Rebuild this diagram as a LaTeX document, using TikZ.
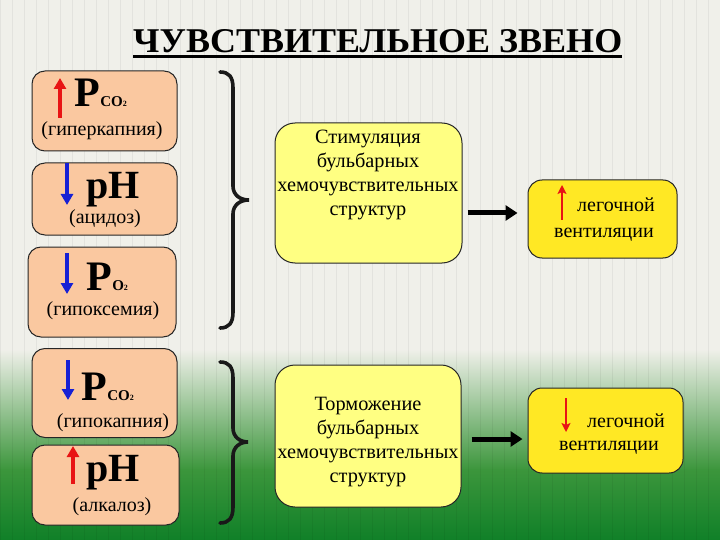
\documentclass[tikz,border=0pt]{standalone}
\usepackage{fontspec}
\setmainfont{Liberation Serif}
\usetikzlibrary{arrows.meta}
\definecolor{bgpale}{RGB}{240,240,234}
\definecolor{gmid}{RGB}{60,150,60}
\definecolor{gdark}{RGB}{16,128,40}
\definecolor{peachc}{RGB}{250,200,160}
\definecolor{paley}{RGB}{255,255,130}
\definecolor{brighty}{RGB}{255,232,36}
\definecolor{ared}{RGB}{232,20,20}
\definecolor{ablue}{RGB}{22,32,212}
\begin{document}
\begin{tikzpicture}[x=1pt,y=-1pt,
  peach/.style={draw=black!85, line width=1, fill=peachc, rounded corners=13, inner sep=0},
  palebox/.style={draw=black!85, line width=1, fill=paley, rounded corners=20, inner sep=0},
  brightbox/.style={draw=black!85, line width=1, fill=brighty, rounded corners=14, inner sep=0},
  bigarr/.style={line width=4, -{Triangle[width=12pt,length=11pt]}},
  thinarr/.style={line width=1.6, ared, -{Stealth[width=9pt,length=9pt,inset=2pt]}},
  flowarr/.style={line width=5, black, -{Triangle[width=15pt,length=12pt]}},
  bracep/.style={line width=3.6, black!90, line cap=round},
  lbl/.style={inner sep=0, font=\fontsize{20}{20}\selectfont},
  symP/.style={inner sep=0, anchor=base west, font=\fontsize{42}{42}\selectfont\bfseries},
  sympH/.style={inner sep=0, anchor=base west, font=\fontsize{40}{40}\selectfont\bfseries},
  subs/.style={inner sep=0, anchor=base west, font=\fontsize{15}{15}\selectfont\bfseries},
  ytext/.style={inner sep=0, align=center, font=\fontsize{20.3}{24}\selectfont},
  vtext/.style={inner sep=0, font=\fontsize{20}{20}\selectfont}
]
\useasboundingbox (0,0) rectangle (720,540);
% background
\fill[bgpale] (0,0) rectangle (720,350);
\shade[top color=bgpale, bottom color=gmid] (0,349) rectangle (720,470);
\shade[top color=gmid, bottom color=gdark] (0,469) rectangle (720,540);
\draw[black, opacity=0.05, line width=0.7, step=12] (0,0) grid (720,540);

% title
\node[inner sep=0, anchor=base west] (title) at (133,53)
  {\resizebox{489pt}{23pt}{\bfseries ЧУВСТВИТЕЛЬНОЕ ЗВЕНО}};
\draw[line width=3] (title.south west) ++(0,3) coordinate (ul1) -- (ul1 -| title.south east);

% left boxes
\node[peach, minimum width=145, minimum height=80] (b1) at (104.5,111) {};
\draw[bigarr, ared] (60,118) -- (60,78);
\node[symP] (b1P) at (74,107) {P};
\node[subs] at (b1P.base east) {CO\fontsize{8}{8}\selectfont 2};
\node[lbl] (b1t) at (102,131) {(гиперкапния)};

\node[peach, minimum width=145, minimum height=72] (b2) at (104.5,199) {};
\draw[bigarr, ablue] (67,163) -- (67,205);
\node[sympH] (b2P) at (86,199) {pH};
\node[lbl] (b2t) at (105,219) {(ацидоз)};

\node[peach, minimum width=148, minimum height=90] (b3) at (102,292) {};
\draw[bigarr, ablue] (67,253) -- (67,294);
\node[symP] (b3P) at (86,290) {P};
\node[subs] at (b3P.base east) {O\fontsize{8}{8}\selectfont 2};
\node[lbl] (b3t) at (103,311) {(гипоксемия)};

\node[peach, minimum width=145, minimum height=89] (b4) at (104.5,393) {};
\draw[bigarr, ablue] (68,360) -- (68,400);
\node[symP] (b4P) at (81,400) {P};
\node[subs] at (b4P.base east) {CO\fontsize{8}{8}\selectfont 2};
\node[lbl] (b4t) at (113,423) {(гипокапния)};

\node[peach, minimum width=147, minimum height=80] (b5) at (105.5,485) {};
\draw[bigarr, ared] (73,484) -- (73,446);
\node[sympH] (b5P) at (86,481) {pH};
\node[lbl] (b5t) at (112,507) {(алкалоз)};

% braces
\draw[bracep] (220,72) .. controls (229,72) and (233,77) .. (233,88) -- (233,186)
  .. controls (233,195) and (240,200) .. (249,200)
  .. controls (240,200) and (233,205) .. (233,214) -- (233,312)
  .. controls (233,323) and (229,328) .. (220,328);
\draw[bracep] (220,362) .. controls (229,362) and (233,367) .. (233,378) -- (233,428)
  .. controls (233,437) and (240,442) .. (248,442)
  .. controls (240,442) and (233,447) .. (233,456) -- (233,507)
  .. controls (233,518) and (229,523) .. (220,523);

% yellow boxes
\node[palebox, minimum width=187, minimum height=140] (s1) at (368.5,193) {};
\node[ytext, anchor=north] (s1t) at (368,130) {Стимуляция\\бульбарных\\хемочувствительных\\структур};

\node[brightbox, minimum width=149, minimum height=78] (v1) at (602.5,219) {};
\draw[thinarr] (562,220) -- (562,185);
\node[vtext, anchor=west] (v1a) at (577,205) {легочной};
\node[vtext] (v1b) at (604,235) {вентиляции};

\node[palebox, minimum width=186, minimum height=142] (s2) at (368,436) {};
\node[ytext] (s2t) at (368,442) {Торможение\\бульбарных\\хемочувствительных\\структур};

\node[brightbox, minimum width=155, minimum height=85] (v2) at (605.5,430.5) {};
\draw[thinarr] (566,398) -- (566,432);
\node[vtext, anchor=west] (v2a) at (587,421) {легочной};
\node[vtext] (v2b) at (609,448) {вентиляции};

% flow arrows
\draw[flowarr] ([xshift=5pt]s1.east |- 0,213) -- ([xshift=-10pt]v1.west |- 0,213);
\draw[flowarr] ([xshift=10pt]s2.east |- 0,439) -- ([xshift=-5pt]v2.west |- 0,439);
\end{tikzpicture}
\end{document}
